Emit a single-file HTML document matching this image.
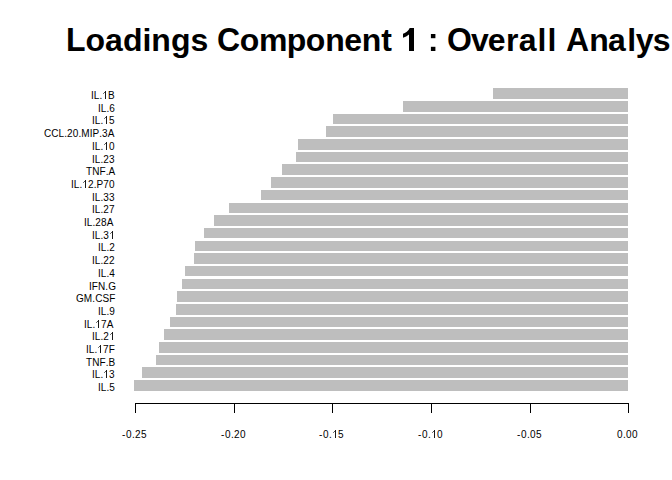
<!DOCTYPE html>
<html><head><meta charset="utf-8"><title>Loadings Component 1</title>
<style>
html,body{margin:0;padding:0;background:#fff;}
body{width:672px;height:480px;position:relative;overflow:hidden;font-family:"Liberation Sans",sans-serif;color:#000;}
.b{position:absolute;background:#bebebe;}
.l,.t{position:absolute;font-size:10px;line-height:12px;height:12px;white-space:nowrap;}
.t{top:429px;}
.l{letter-spacing:0.08px;font-kerning:none;}
.t span{display:inline-block;text-align:left;vertical-align:top;height:12px;}
.w3{width:3px}.w4{width:4px}.w6{width:6px}.w7{width:7px}.w8{width:8px}
.k{position:absolute;top:403px;width:1px;height:10px;background:#000;}
#title{position:absolute;left:66px;top:22px;font-size:32px;line-height:36px;font-weight:bold;white-space:nowrap;}
#title .r{position:relative;}
#title .c{position:relative;display:inline-block;transform:scaleY(1.045);transform-origin:0 29px;}
#title .h{color:transparent;}
.o{position:relative;color:transparent;}
.o::before{content:"";position:absolute;left:3px;top:1px;width:1px;height:8px;background:#1a1a1a;}
.o::after{content:"";position:absolute;left:2px;top:2px;width:1px;height:1px;background:#555;box-shadow:-1px 1px 0 0 #777;}
#ax{position:absolute;left:135px;top:403px;width:494px;height:1px;background:#000;}
#g{position:absolute;left:0;top:0;}
</style></head><body>
<div id="title"><span class="c" style="left:0px">L</span>oadings <span class="c" style="left:0px">C</span><span class="r" style="left:-0.5px">o</span><span class="r" style="left:-0.9px">m</span><span class="r" style="left:-1.4px">p</span><span class="r" style="left:-2.0px">o</span><span class="r" style="left:-2.2px">n</span><span class="r" style="left:-2.7px">e</span><span class="r" style="left:-2.9px">n</span><span class="r" style="left:-3.0px">t</span> <span class="h">1</span> <span class="h">:</span> <span class="c" style="left:-2.9px">O</span><span class="r" style="left:-4.0px">v</span><span class="r" style="left:-4.9px">e</span><span class="r" style="left:-4.5px">r</span><span class="r" style="left:-4.1px">a</span><span class="r" style="left:-3.2px">l</span><span class="r" style="left:-2.0px">l</span> <span class="c" style="left:-1.3px">A</span><span class="r" style="left:-1.2px">n</span><span class="r" style="left:-2.0px">a</span><span class="r" style="left:-0.7px">l</span><span class="r" style="left:-1.1px">y</span><span class="r" style="left:-1.9px">s</span><span class="r" style="left:-1.9px">is</span></div>
<svg id="g" width="672" height="80" viewBox="0 0 672 80"><path d="M414,51 L409,51 L409,34.45 Q406.3,36.7 403,37.8 L403,33.8 Q404.7,33.2 406.8,31.7 Q408.9,30.1 409.7,28 L414,28 Z" fill="#000"/><rect x="430.9" y="34" width="4.5" height="4.2" fill="#000"/><rect x="430.9" y="46.8" width="4.5" height="4.2" fill="#000"/></svg>

<div class="b" style="left:493px;top:88px;width:135px;height:11px"></div>
<div class="l" style="top:89.99px;left:91px">IL.<span class="o">1</span>B</div>
<div class="b" style="left:403px;top:101px;width:225px;height:11px"></div>
<div class="l" style="top:102.70px;left:98px">IL.6</div>
<div class="b" style="left:333px;top:114px;width:295px;height:10px"></div>
<div class="l" style="top:115.40px;left:92px">IL.<span class="o">1</span>5</div>
<div class="b" style="left:326px;top:126px;width:302px;height:11px"></div>
<div class="l" style="top:128.10px;left:44px">CCL.20.MIP.3A</div>
<div class="b" style="left:298px;top:139px;width:330px;height:11px"></div>
<div class="l" style="top:140.81px;left:92px">IL.<span class="o">1</span>0</div>
<div class="b" style="left:296px;top:152px;width:332px;height:10px"></div>
<div class="l" style="top:153.51px;left:92px">IL.23</div>
<div class="b" style="left:282px;top:164px;width:346px;height:11px"></div>
<div class="l" style="top:166.21px;left:86px">TNF.A</div>
<div class="b" style="left:271px;top:177px;width:357px;height:11px"></div>
<div class="l" style="top:178.91px;left:71px">IL.<span class="o">1</span>2.P70</div>
<div class="b" style="left:261px;top:190px;width:367px;height:10px"></div>
<div class="l" style="top:191.62px;left:92px">IL.33</div>
<div class="b" style="left:229px;top:203px;width:399px;height:10px"></div>
<div class="l" style="top:204.32px;left:92px">IL.27</div>
<div class="b" style="left:214px;top:215px;width:414px;height:11px"></div>
<div class="l" style="top:217.02px;left:84px">IL.28A</div>
<div class="b" style="left:204px;top:228px;width:424px;height:10px"></div>
<div class="l" style="top:229.73px;left:92px">IL.3<span class="o">1</span></div>
<div class="b" style="left:195px;top:241px;width:433px;height:10px"></div>
<div class="l" style="top:242.43px;left:98px">IL.2</div>
<div class="b" style="left:194px;top:253px;width:434px;height:11px"></div>
<div class="l" style="top:255.13px;left:92px">IL.22</div>
<div class="b" style="left:185px;top:266px;width:443px;height:10px"></div>
<div class="l" style="top:267.83px;left:98px">IL.4</div>
<div class="b" style="left:182px;top:279px;width:446px;height:10px"></div>
<div class="l" style="top:280.54px;left:89px">IFN.G</div>
<div class="b" style="left:177px;top:291px;width:451px;height:11px"></div>
<div class="l" style="top:293.24px;left:76px">GM.CSF</div>
<div class="b" style="left:176px;top:304px;width:452px;height:11px"></div>
<div class="l" style="top:305.94px;left:98px">IL.9</div>
<div class="b" style="left:170px;top:317px;width:458px;height:10px"></div>
<div class="l" style="top:318.65px;left:84px">IL.<span class="o">1</span>7A</div>
<div class="b" style="left:164px;top:329px;width:464px;height:11px"></div>
<div class="l" style="top:331.35px;left:92px">IL.2<span class="o">1</span></div>
<div class="b" style="left:159px;top:342px;width:469px;height:11px"></div>
<div class="l" style="top:344.05px;left:86px">IL.<span class="o">1</span>7F</div>
<div class="b" style="left:156px;top:355px;width:472px;height:10px"></div>
<div class="l" style="top:356.76px;left:86px">TNF.B</div>
<div class="b" style="left:142px;top:367px;width:486px;height:11px"></div>
<div class="l" style="top:369.46px;left:92px">IL.<span class="o">1</span>3</div>
<div class="b" style="left:134px;top:380px;width:494px;height:11px"></div>
<div class="l" style="top:382.16px;left:98px">IL.5</div>
<div id="ax"></div>
<div class="k" style="left:135px"></div>
<div class="t" style="left:122px"><span class="w4">-</span><span class="w6">0</span><span class="w3">.</span><span class="w6">2</span><span class="w6">5</span></div>
<div class="k" style="left:234px"></div>
<div class="t" style="left:221px"><span class="w4">-</span><span class="w6">0</span><span class="w3">.</span><span class="w6">2</span><span class="w6">0</span></div>
<div class="k" style="left:332px"></div>
<div class="t" style="left:319px"><span class="w4">-</span><span class="w6">0</span><span class="w3">.</span><span class="w6 o">1</span><span class="w6">5</span></div>
<div class="k" style="left:431px"></div>
<div class="t" style="left:418px"><span class="w4">-</span><span class="w6">0</span><span class="w3">.</span><span class="w6 o">1</span><span class="w6">0</span></div>
<div class="k" style="left:530px"></div>
<div class="t" style="left:517px"><span class="w4">-</span><span class="w6">0</span><span class="w3">.</span><span class="w6">0</span><span class="w6">5</span></div>
<div class="k" style="left:628px"></div>
<div class="t" style="left:617px"><span class="w6">0</span><span class="w3">.</span><span class="w6">0</span><span class="w6">0</span></div>
</body></html>
